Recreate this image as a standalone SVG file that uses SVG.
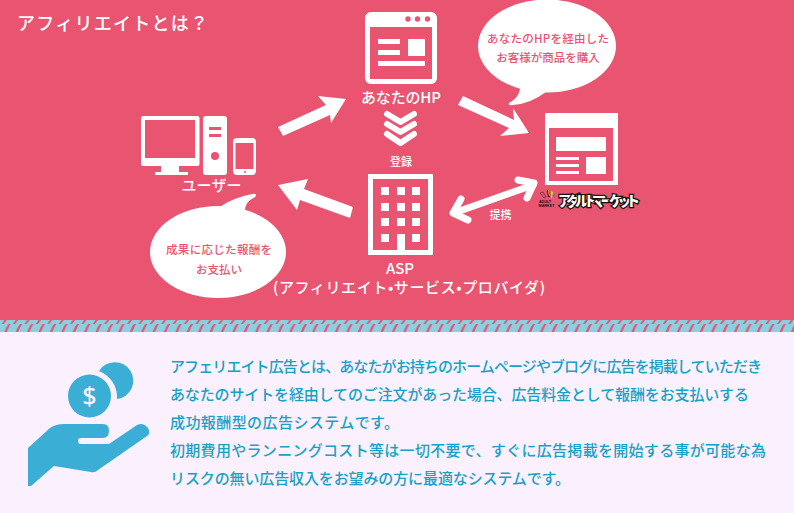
<svg xmlns="http://www.w3.org/2000/svg" width="794" height="513" viewBox="0 0 794 513">
<style>
text{font-family:"Noto Sans CJK JP","Noto Sans",sans-serif}
.w{fill:#fff}
.p{fill:#e95471}
.lbl{fill:#fff;text-anchor:middle;font-size:15px;font-weight:500}
.sm{fill:#fff;text-anchor:middle;font-size:11px;font-weight:500}
.bub{fill:#e95471;text-anchor:middle;font-size:11.500px;font-weight:500}
.body{fill:#16a2c8;font-size:15px;font-weight:500}
</style>
<defs>
<pattern id="st" width="11.400" height="12" patternUnits="userSpaceOnUse">
<rect width="11.400" height="12" fill="#8bd0e0"/>
<path d="M1.500 12Q5 8 6 4Q7 2 8.500 0L10.800 0Q9.500 2 8.500 4Q7.500 8 3.800 12Z" fill="#e95471"/>
</pattern>
</defs>
<rect width="794" height="320" class="p"/>
<rect y="320" width="794" height="12" fill="url(#st)"/>
<rect y="332" width="794" height="181" fill="#faf0fe"/>
<text x="17" y="30" fill="#fff" font-size="18" font-weight="500" textLength="191">アフィリエイトとは？</text>
<g id="connectors" class="w">
<path d="M278 127L283 136L330 115L331 123L346 99L318 96L326 105Z"/>
<path d="M463 96L458 105L509 128L500 136L529 133L513 108L514 120Z"/>
<path d="M353 207L350 218L300 200L297 210L278 185L308 179L304 189Z"/>
<g fill="none" stroke="#fff" stroke-width="7" stroke-linecap="round" stroke-linejoin="round">
<path d="M454 213L533 185"/><path d="M461 199L453 213L468 220"/><path d="M518 180L534 183L527 198"/>
</g>
<g fill="none" stroke="#fff" stroke-width="6" stroke-linecap="round" stroke-linejoin="round">
<path d="M387 114L400.500 122L414 114"/><path d="M387 124L400.500 132L414 124"/><path d="M387 134L400.500 143L414 134"/>
</g>
</g>
<g id="node-hp">
<rect x="365" y="12" width="72" height="72" rx="6" class="w"/>
<rect x="370" y="27" width="62" height="52" class="p"/>
<circle cx="408" cy="19" r="2.700" class="p"/><circle cx="417.500" cy="19" r="2.700" class="p"/><circle cx="427.500" cy="19" r="2.700" class="p"/>
<path class="w" d="M378 39h22v5h-22zM378 50h22v5h-22zM408 39h17v17h-17zM378 61h47v5h-47z"/>
<text x="401" y="103" class="lbl" textLength="80">あなたのHP</text>
</g>
<g id="node-user">
<rect x="141" y="116" width="58.500" height="50" rx="2" class="w"/>
<rect x="145" y="120" width="50" height="38" class="p"/>
<path class="w" d="M161 166h18v6h9v3h-33v-3h6z"/>
<rect x="203" y="116" width="24" height="59" rx="3" class="w"/>
<path class="p" d="M209 127h12v3h-12zM209 134h12v3h-12z"/>
<circle cx="215" cy="156" r="4" class="p"/>
<rect x="233" y="138" width="23" height="37" rx="4" class="w"/>
<rect x="235.500" y="143" width="18" height="26" class="p"/>
<circle cx="245" cy="172" r="1" class="p"/>
<text x="211.500" y="191" class="lbl" textLength="60">ユーザー</text>
</g>
<g id="node-ad">
<rect x="545" y="113" width="73" height="72" class="w"/>
<rect x="549" y="128" width="64" height="53" class="p"/>
<path class="w" d="M556 137h50v14h-50zM556 157h23v3h-23zM556 164h23v3h-23zM556 171h23v3h-23zM586 157h20v17h-20z"/>
<g id="logo">
<path d="M540 193l3-1 3 5-2 1z" fill="#e95471" stroke="#222" stroke-width=".5"/>
<path d="M547 190l2 0 1 7h-2z" fill="#111"/>
<path d="M548 190l1 0 .8 6h-1z" fill="#f5c020"/>
<path d="M551 191l2 1-1 6h-1z" fill="#d8e020"/>
<path d="M553 195l2-1 0 2-2 1z" fill="#2a80d0"/>
<text x="545" y="203" font-size="3.700" font-weight="700" fill="#111" text-anchor="middle" style="font-family:'Liberation Sans',sans-serif">ADULT</text>
<text x="546.500" y="207.300" font-size="3.700" font-weight="700" fill="#111" text-anchor="middle" style="font-family:'Liberation Sans',sans-serif">MARKET</text>
<text x="558" y="206" font-size="14" font-weight="900" fill="#fff" stroke="#111" stroke-width="2.500" paint-order="stroke" textLength="82">アダルトマーケット</text>
</g>
</g>
<g id="node-asp">
<rect x="370.500" y="176.500" width="60" height="76" fill="none" stroke="#fff" stroke-width="5"/>
<path class="w" d="M381 187h8v8h-8zM397 187h8v8h-8zM412 187h8v8h-8zM381 203h8v8h-8zM397 203h8v8h-8zM412 203h8v8h-8zM381 218h8v8h-8zM397 218h8v8h-8zM412 218h8v8h-8zM381 234h8v8h-8zM397 234h8v18h-8zM412 234h8v8h-8z"/>
<text x="400" y="274" class="lbl">ASP</text>
<text x="409" y="293" class="lbl" textLength="272">(アフィリエイト•サービス•プロバイダ)</text>
</g>
<text x="401" y="166" class="sm">登録</text>
<text x="500.500" y="219" class="sm">提携</text>
<g id="bubble-hp">
<ellipse cx="547" cy="46" rx="69" ry="46.500" class="w"/>
<path class="w" d="M520 82Q522 96 509 103Q508 106 513 105Q530 104 546 92Z"/>
<text x="548" y="43" class="bub" textLength="122">あなたのHPを経由した</text>
<text x="548" y="62" class="bub">お客様が商品を購入</text>
</g>
<g id="bubble-asp">
<ellipse cx="218" cy="252" rx="68" ry="46" class="w"/>
<path class="w" d="M220 207Q232 198 252 194Q258 193 255 197Q245 202 245 210Z"/>
<text x="219" y="254" class="bub" textLength="106">成果に応じた報酬を</text>
<text x="219" y="274" class="bub">お支払い</text>
</g>
<g id="money">
<path fill="#3baed6" d="M99 371A18.500 18.500 0 1 1 117 399A28 28 0 0 0 99 371Z"/>
<circle cx="89.500" cy="396" r="21.500" fill="#3baed6"/>
<text x="89.500" y="405" fill="#faf0fe" font-size="25" font-weight="500" text-anchor="middle" style="font-family:'Noto Sans',sans-serif">$</text>
<path fill="#3baed6" d="M28 448L50 428Q56 424 64 424H103Q109 424 109 431Q109 438 103 438H81Q78 438 78 441Q78 444 81 444H109L137 425Q143 422 148 428Q151 433 147 436L98 470Q95 473 91 472L54 466L31 486H28Z"/>
</g>
<g id="desc" class="body">
<text x="170" y="372" textLength="592">アフェリエイト広告とは、あなたがお持ちのホームページやブログに広告を掲載していただき</text>
<text x="170" y="400" textLength="579">あなたのサイトを経由してのご注文があった場合、広告料金として報酬をお支払いする</text>
<text x="170" y="428" textLength="229">成功報酬型の広告システムです。</text>
<text x="170" y="456" textLength="596">初期費用やランニングコスト等は一切不要で、すぐに広告掲載を開始する事が可能な為</text>
<text x="170" y="484" textLength="400">リスクの無い広告収入をお望みの方に最適なシステムです。</text>
</g>
</svg>
